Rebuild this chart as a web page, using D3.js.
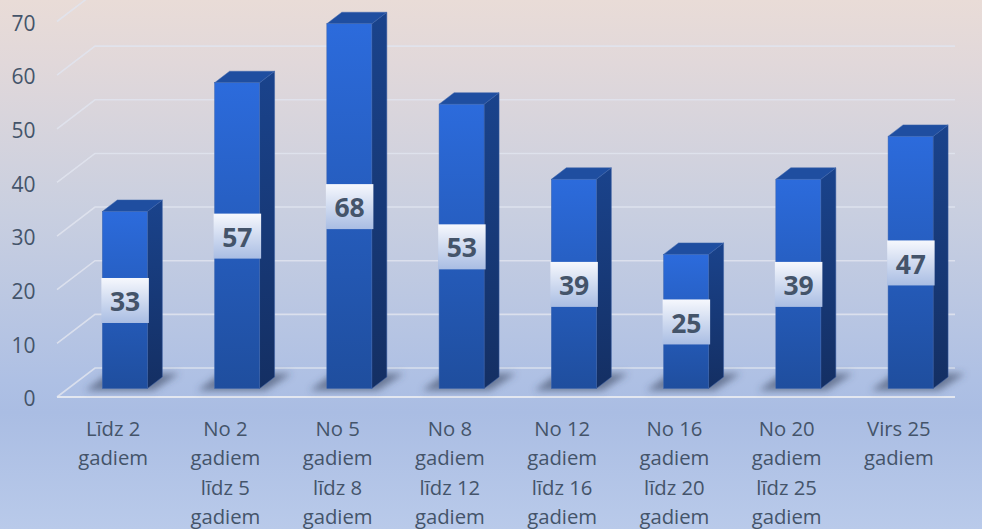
<!DOCTYPE html>
<html><head><meta charset="utf-8">
<script src="https://cdn.jsdelivr.net/npm/d3@7"></script>
<style>html,body{margin:0;padding:0;overflow:hidden}svg{display:block}text{font-family:"Open Sans",sans-serif}</style>
</head><body>
<svg id="c" width="982" height="529"></svg>
<script>
const categories = [
  ["Līdz 2","gadiem"],
  ["No 2","gadiem","līdz 5","gadiem"],
  ["No 5","gadiem","līdz 8","gadiem"],
  ["No 8","gadiem","līdz 12","gadiem"],
  ["No 12","gadiem","līdz 16","gadiem"],
  ["No 16","gadiem","līdz 20","gadiem"],
  ["No 20","gadiem","līdz 25","gadiem"],
  ["Virs 25","gadiem"]
];
const values = [33,57,68,53,39,25,39,47];
const ticks = [0,10,20,30,40,50,60,70];

const W=982,H=529, dx=15, dy=11.5, gdx=38, gdy=29;
const svg=d3.select("#c");
const defs=svg.append("defs");
function grad(id,stops){
  const g=defs.append("linearGradient").attr("id",id).attr("x1",0).attr("y1",0).attr("x2",0).attr("y2",1);
  stops.forEach(s=>g.append("stop").attr("offset",s[0]).attr("stop-color",s[1]));
}
grad("bg",[[0,"#e9dcd7"],[0.12,"#e1d8da"],[0.4,"#c9cfe0"],[0.72,"#aec0e4"],[0.78,"#aabde3"],[1,"#b9caea"]]);
grad("front",[[0,"#2c6bdc"],[1,"#1f4e9e"]]);
grad("side",[[0,"#1a438c"],[1,"#142f63"]]);
grad("lab",[[0,"#f6f8fd"],[1,"#a9bde3"]]);
defs.append("filter").attr("id","blur").attr("x","-30%").attr("y","-100%").attr("width","160%").attr("height","300%")
  .append("feGaussianBlur").attr("stdDeviation",3.5);

svg.append("rect").attr("width",W).attr("height",H).attr("fill","url(#bg)");

const x=d3.scaleBand().domain(d3.range(categories.length)).range([57,955]);
const yAxisS=d3.scaleLinear().domain([0,70]).range([397,21.5]);
const barW=45, barOff=x.bandwidth()/2+11.7-barW/2;
const yBar=v=>yAxisS(v)-8.5;

// grid: side-wall diagonal + back wall line
const grid=svg.append("g").attr("fill","none").attr("stroke-width",1.6);
ticks.forEach(t=>{
  const y=yAxisS(t);
  grid.append("path").attr("stroke","#e0e4ee").attr("stroke-opacity",.85)
    .attr("d",`M${x.range()[0]},${y}L${x.range()[0]+gdx},${y-gdy}L${x.range()[1]},${y-gdy}`);
});
// front floor edge
svg.append("line").attr("x1",57).attr("x2",955).attr("y1",yAxisS(0)).attr("y2",yAxisS(0))
  .attr("stroke","#e3e7f0").attr("stroke-width",2);

// shadows
svg.append("g").selectAll("path").data(values).join("path")
  .attr("filter","url(#blur)").attr("fill","#3d4963").attr("fill-opacity",.6)
  .attr("d",(d,i)=>{const l=x(i)+barOff,b=yBar(0);
    return `M${l-17},${b+2}L${l+barW+6},${b+2}L${l+barW+32},${b-15}L${l+6},${b-15}Z`;});

// bars
const bars=svg.append("g").selectAll("g").data(values).join("g");
bars.append("path").attr("fill","url(#side)").attr("stroke","#3a5fa5").attr("stroke-width",.5)
  .attr("d",(d,i)=>{const r=x(i)+barOff+barW,t=yBar(d),b=yBar(0);
    return `M${r},${t}L${r+dx},${t-dy}L${r+dx},${b-dy}L${r},${b}Z`;});
bars.append("path").attr("fill","#1f4ea0").attr("stroke","#3f66ad").attr("stroke-width",.5)
  .attr("d",(d,i)=>{const l=x(i)+barOff,t=yBar(d);
    return `M${l},${t}L${l+dx},${t-dy}L${l+barW+dx},${t-dy}L${l+barW},${t}Z`;});
bars.append("rect").attr("fill","url(#front)").attr("stroke","#3f66ad").attr("stroke-width",.5)
  .attr("x",(d,i)=>x(i)+barOff).attr("width",barW)
  .attr("y",d=>yBar(d)).attr("height",d=>yBar(0)-yBar(d));

// data labels
const lw=47.5, lh=45;
const lab=svg.append("g").selectAll("g").data(values).join("g")
  .attr("transform",(d,i)=>`translate(${x(i)+barOff+barW/2+0.3},${(yBar(d)+yBar(0))/2+0.5})`);
lab.append("rect").attr("x",-lw/2).attr("y",-lh/2).attr("width",lw).attr("height",lh).attr("fill","url(#lab)");
lab.append("text").text(d=>d).attr("text-anchor","middle").attr("dy","0.4em")
  .attr("font-size",26.5).attr("font-weight",700).attr("fill","#44546a");

// value axis
const axis=d3.axisLeft(yAxisS).tickValues(ticks).tickSize(0).tickPadding(0);
const ag=svg.append("g").attr("transform","translate(35.5,2)").call(axis);
ag.select(".domain").remove();
ag.selectAll("text").attr("font-size",21).attr("fill","#44546a").style("font-family",'"Open Sans",sans-serif');

// category labels
const cat=svg.append("g").selectAll("text").data(categories).join("text")
  .attr("text-anchor","middle").attr("font-size",20.3).attr("fill","#44546a");
cat.each(function(lines,i){
  d3.select(this).selectAll("tspan").data(lines).join("tspan")
    .attr("x",x(i)+x.bandwidth()/2).attr("y",(l,j)=>435.5+j*29.5).text(l=>l);
});
</script>
</body></html>
